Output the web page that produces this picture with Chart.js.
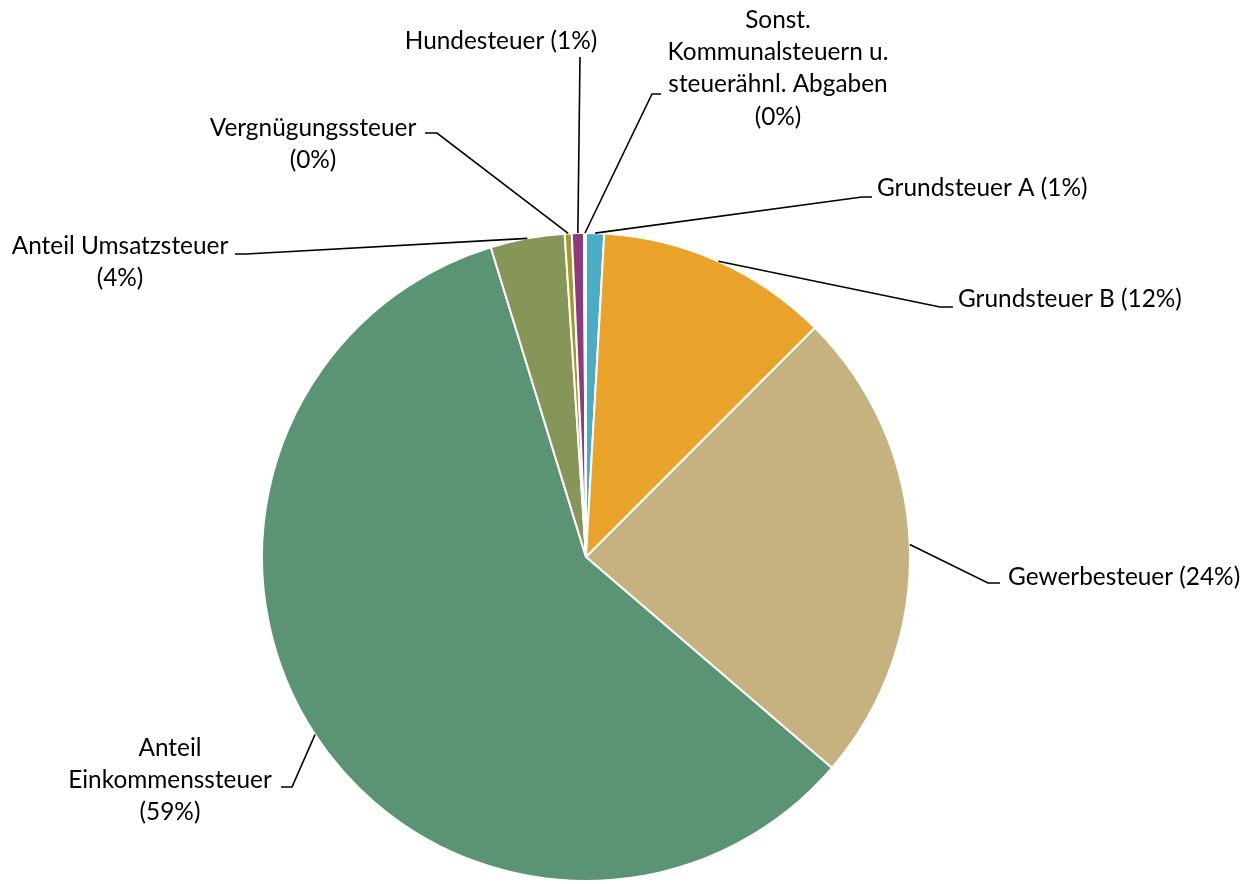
<!DOCTYPE html>
<html>
<head>
<meta charset="utf-8">
<script src="https://cdn.jsdelivr.net/npm/chart.js@4.4.1/dist/chart.umd.min.js"></script>
<style>
html,body{margin:0;padding:0;background:#fff;}
#c{display:block;}
</style>
</head>
<body>
<canvas id="c" width="1260" height="884"></canvas>
<script>
// ---- data ----
const categories = [
  'Grundsteuer A',
  'Grundsteuer B',
  'Gewerbesteuer',
  'Anteil Einkommenssteuer',
  'Anteil Umsatzsteuer',
  'Vergnügungssteuer',
  'Hundesteuer',
  'Sonst. Kommunalsteuern u. steuerähnl. Abgaben'
];
const shares = [0.9, 11.6, 23.8, 59.0, 3.7, 0.35, 0.6, 0.1];
const sliceColors = ['#4BACC6', '#E9A32A', '#C6B27F', '#5A9475', '#869558', '#A09A28', '#8E3A7E', '#4F81BD'];
// words per text line for each label
const lineBreaks = [[3], [3], [2], [1, 1, 1], [2, 1], [1, 1], [2], [1, 2, 2, 1]];

// ---- label layout (text block position + leader elbow) ----
const labelLayout = [
  {align: 'left',   x: 877, y: 188, elbow: [862, 197], tail: [872, 197]},
  {align: 'left',   x: 958, y: 299, elbow: [940, 307], tail: [953, 307]},
  {align: 'left',   x: 1008, y: 577, elbow: [988, 583], tail: [1000, 583]},
  {align: 'center', x: 170, y: 748, elbow: [292, 787], tail: [281, 787]},
  {align: 'center', x: 120, y: 246, elbow: [246, 254], tail: [235, 254]},
  {align: 'center', x: 313, y: 128, elbow: [437, 133], tail: [425, 133]},
  {align: 'center', x: 501, y: 41,  elbow: [580, 57],  tail: null},
  {align: 'center', x: 778, y: 20,  elbow: [652, 94],  tail: [661, 94]}
];
const lineHeight = 32.3;
const fontFamily = 'Lato, "Open Sans", sans-serif';

const labelPlugin = {
  id: 'excelLabels',
  afterDatasetsDraw(chart) {
    const ctx = chart.ctx;
    const meta = chart.getDatasetMeta(0);
    const data = chart.data.datasets[0].data;
    const total = data.reduce((a, b) => a + b, 0);
    ctx.save();
    ctx.font = '20px ' + fontFamily;
    const w = ctx.measureText('Grundsteuer B (12%)').width;
    const fs = 20 * 224 / w;
    ctx.font = fs.toFixed(2) + 'px ' + fontFamily;
    ctx.fillStyle = '#000';
    ctx.strokeStyle = '#000';
    ctx.lineWidth = 1.6;
    ctx.textBaseline = 'middle';
    meta.data.forEach((arc, i) => {
      const L = labelLayout[i];
      const mid = (arc.startAngle + arc.endAngle) / 2;
      const ax = arc.x + Math.cos(mid) * arc.outerRadius;
      const ay = arc.y + Math.sin(mid) * arc.outerRadius;
      ctx.beginPath();
      ctx.moveTo(ax, ay);
      ctx.lineTo(L.elbow[0], L.elbow[1]);
      if (L.tail) ctx.lineTo(L.tail[0], L.tail[1]);
      ctx.stroke();
      const pct = Math.round(data[i] / total * 100) + '%';
      const words = (categories[i] + ' (' + pct + ')').split(' ');
      let k = 0;
      const lines = lineBreaks[i].map(n => { const s = words.slice(k, k + n).join(' '); k += n; return s; });
      ctx.textAlign = L.align;
      lines.forEach((s, j) => ctx.fillText(s, L.x, L.y + j * lineHeight));
    });
    ctx.restore();
  }
};

new Chart(document.getElementById('c'), {
  type: 'pie',
  data: {
    labels: categories,
    datasets: [{
      data: shares,
      backgroundColor: sliceColors,
      borderColor: '#ffffff',
      borderWidth: 2
    }]
  },
  options: {
    responsive: false,
    animation: false,
    radius: 324,
    layout: {padding: {left: 0, right: 88, top: 230, bottom: 0}},
    plugins: {legend: {display: false}, tooltip: {enabled: false}}
  },
  plugins: [labelPlugin]
});
</script>
</body>
</html>
